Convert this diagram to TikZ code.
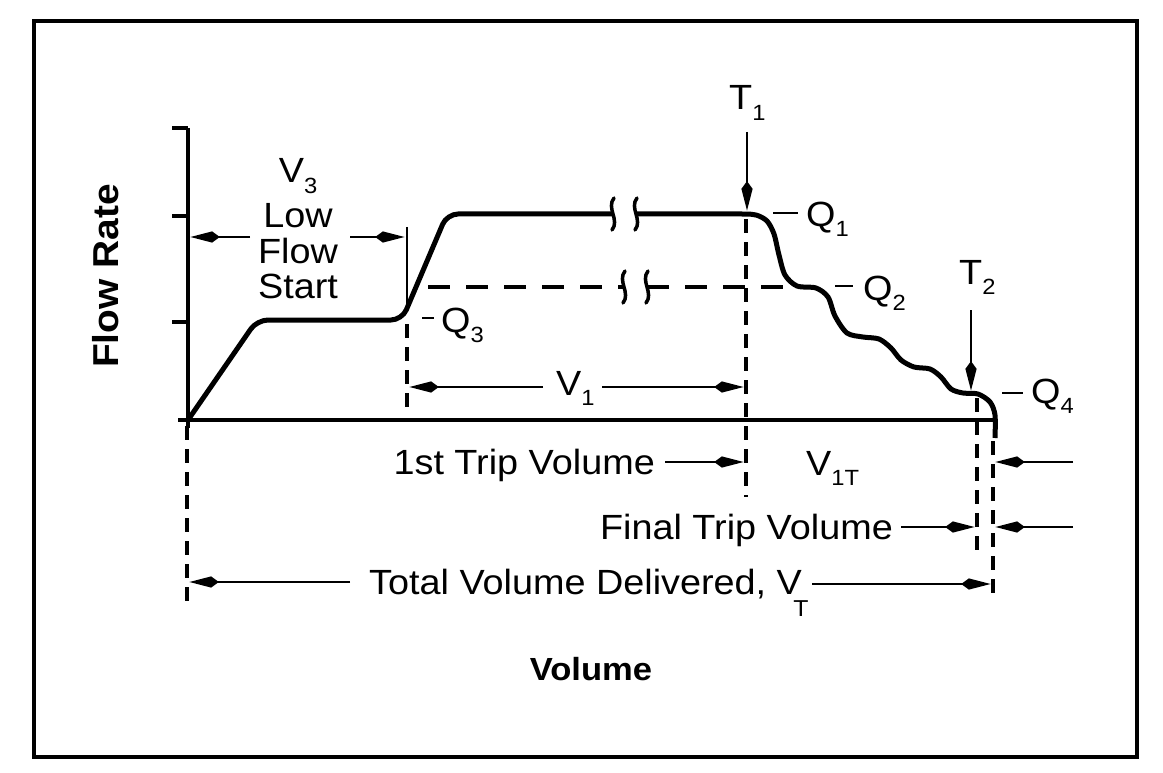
\documentclass[tikz,border=0pt]{standalone}
\usepackage{fontspec}
\setmainfont{Liberation Sans}[FakeStretch=1.08]
\usetikzlibrary{arrows.meta}
\newcommand{\lsub}[1]{\raisebox{-0.3em}{\fontsize{22}{22}\selectfont #1}}
\tikzset{
  lbl/.style={inner sep=0pt, font=\fontsize{35}{40}\selectfont},
  blbl/.style={inner sep=0pt, font=\fontsize{32}{38}\selectfont\bfseries},
  frame/.style={line width=4pt},
  axis/.style={line width=4pt},
  curve/.style={line width=5pt, rounded corners=11pt},
  dashv/.style={line width=3.5pt, dash pattern=on 14pt off 9pt},
  dashh/.style={line width=4pt, dash pattern=on 22pt off 16pt},
  thin/.style={line width=1.8pt},
  dim/.style={line width=1.8pt, -{Stealth[length=22pt,width=10pt,inset=-8pt]}},
  qdash/.style={line width=1.8pt},
  brkmark/.pic={\draw[line width=3.5pt, line cap=round] (1,-16) .. controls (-7,-6) and (7,6) .. (-1,16);}
}
\begin{document}
\begin{tikzpicture}[x=1pt,y=-1pt]
\useasboundingbox (0,0) rectangle (1163,773);
% frame
\draw[frame] (34,21) rectangle (1137,757);

% axes
\coordinate (ytop) at (188,128);
\coordinate (ybot) at (188,428);
\coordinate (o) at (188,420);
\coordinate (xend) at (995,420);
\draw[axis] (ytop) -- (ybot);
\draw[axis] (172,128) -- (ytop);
\draw[axis] (172,216) -- (188,216);
\draw[axis] (172,322) -- (188,322);
\draw[axis] (178,420) -- (xend);

% main curve
\draw[curve] (188,420) -- (257,320) -- (402,320) -- (447,214) -- (613,214);
\draw[line width=5pt] plot[smooth, tension=0.5] coordinates {
 (636,214) (700,214) (742,214) (756,215) (767,221) (774,234) (779,255) (785,275)
 (797,286) (816,288) (828,297) (835,316) (847,333) (863,337) (879,339)
 (891,348) (901,360) (914,367) (930,369) (941,377) (951,389) (963,393)
 (978,394) (990,402) (995,415) (995,438)};

% Q2 dashed line
\draw[dashh] (428,287) -- (624,287);
\draw[dashh] (647,287) -- (785,287);

% break marks
\pic at (613,214) {brkmark};
\pic at (636,214) {brkmark};
\pic at (624,287) {brkmark};
\pic at (647,287) {brkmark};

% dashed verticals
\draw[dashv] (187,426) -- (187,608);
\draw[dashv] (407,324) -- (407,415);
\draw[dashv] (746,219) -- (746,497);
\draw[dashv] (977,398) -- (977,558);
\draw[dashv] (993,441) -- (993,601);

% V3 dimension
\draw[thin] (407,227) -- (407,312);
\draw[dim] (250,237) -- (190,237);
\draw[dim] (350,237) -- (405,237);
\node[lbl] (v3) at (298,176) {V\lsub{3}};
\node[lbl] (low) at (298,216) {Low};
\node[lbl] (flow) at (298,251) {Flow};
\node[lbl] (start) at (298,286) {Start};

% T arrows
\node[lbl, anchor=base west] (t1) at (729,110) {T\lsub{1}};
\draw[dim] (747,132) -- (747,211);
\node[lbl, anchor=base west] (t2) at (959,284) {T\lsub{2}};
\draw[dim] (971,310) -- (971,391);

% Q labels
\draw[qdash] (773,213) -- (798,213);
\node[lbl, anchor=base west] (q1) at (806,226) {Q\lsub{1}};
\draw[qdash] (835,286) -- (853,286);
\node[lbl, anchor=base west] (q2) at (863,300) {Q\lsub{2}};
\draw[qdash] (422,318) -- (434,318);
\node[lbl, anchor=base west] (q3) at (441,332) {Q\lsub{3}};
\draw[qdash] (1002,393) -- (1023,393);
\node[lbl, anchor=base west] (q4) at (1031,403) {Q\lsub{4}};

% V1
\node[lbl, anchor=base west] (v1) at (556,395) {V\lsub{1}};
\draw[dim] (543,387) -- (409,387);
\draw[dim] (602,387) -- (744,387);

% 1st trip
\node[lbl, anchor=base east] (first) at (655,474) {1st Trip Volume};
\draw[dim] (665,462) -- (744,462);
\node[lbl, anchor=base west] (v1t) at (806,475) {V\lsub{1T}};
\draw[dim] (1073,462) -- (995,462);

% final trip
\node[lbl, anchor=base east] (final) at (893,539) {Final Trip Volume};
\draw[dim] (901,527) -- (975,527);
\draw[dim] (1073,527) -- (995,527);

% total
\node[lbl, anchor=base west] (total) at (369,594) {Total Volume Delivered, V};
\node[inner sep=0pt, font=\fontsize{23}{23}\selectfont] (tsub) at (801,609) {T};
\draw[dim] (350,582) -- (189,582);
\draw[dim] (812,584) -- (991,584);

% axis titles
\node[blbl, rotate=90, font=\fontsize{36}{40}\selectfont\bfseries] (ylab) at (106,276) {Flow Rate};
\node[blbl] (xlab) at (591,669) {Volume};
\end{tikzpicture}
\end{document}
